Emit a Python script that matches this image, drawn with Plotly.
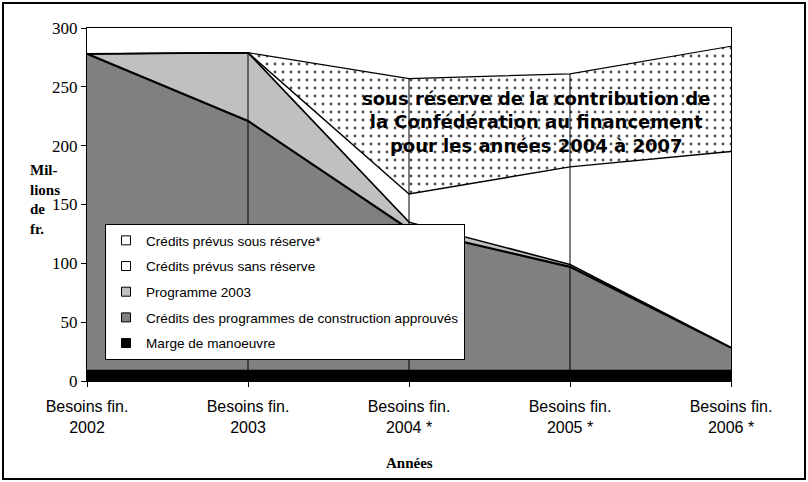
import plotly.graph_objects as go

categories = ["Besoins fin.<br>2002", "Besoins fin.<br>2003", "Besoins fin.<br>2004 *",
              "Besoins fin.<br>2005 *", "Besoins fin.<br>2006 *"]

marge = [9, 9, 9, 9, 9]
approuves = [269, 212, 120, 88, 19.5]
programme_2003 = [0, 58, 6, 2, 0]
sans_reserve = [0, 0, 24, 83, 166.5]
sous_reserve = [0, 0, 98, 79, 89.5]

series = [
    ("Marge de manoeuvre", marge, "#000000", 1.2),
    ("Crédits des programmes de construction approuvés", approuves, "#808080", 2.2),
    ("Programme 2003", programme_2003, "#C0C0C0", 1.6),
    ("Crédits prévus sans réserve", sans_reserve, "#FFFFFF", 1.4),
    ("Crédits prévus sous réserve*", sous_reserve, "#FFFFFF", 1.2),
]

fig = go.Figure()

for name, vals, color, lw in series:
    kw = dict(fillcolor=color)
    if name.startswith("Crédits prévus sous"):
        kw = dict(fillpattern=dict(shape=".", fgcolor="#505050", bgcolor="#FFFFFF",
                                   size=8, solidity=0.1, fillmode="replace"))
    fig.add_trace(go.Scatter(
        x=categories, y=vals, name=name, mode="lines", stackgroup="s",
        line=dict(color="#000000", width=lw), showlegend=False,
        hoverinfo="skip", **kw))

# legend-only entries (small squares like the original)
legend_order = list(reversed(series))
for i, (name, vals, color, lw) in enumerate(legend_order):
    fig.add_trace(go.Scatter(
        x=[None], y=[None], mode="markers", name=name, legendgroup=str(i),
        marker=dict(symbol="square", size=9, color=color,
                    line=dict(color="#000000", width=1))))

# drop lines from 0 to the top of the stack at each inner category
totals = [sum(v) for v in zip(marge, approuves, programme_2003, sans_reserve, sous_reserve)]
for i in range(1, len(categories) - 1):
    fig.add_shape(type="line", xref="x", yref="y", x0=i, x1=i, y0=0, y1=totals[i],
                  line=dict(color="#000000", width=1), layer="above")

fig.add_annotation(
    x=2.79, y=220, xref="x", yref="y",
    text="sous réserve de la contribution de<br>la Confédération au financement<br>pour les années 2004 à 2007",
    showarrow=False, align="center",
    font=dict(family="DejaVu Sans", size=18, color="#000000", weight="bold"))

fig.add_annotation(
    x=-0.0916, y=0.514, xref="paper", yref="paper", xanchor="left", yanchor="middle",
    text="<b>Mil-<br>lions<br>de<br>fr.</b>", showarrow=False, align="left",
    font=dict(family="Liberation Serif", size=15, color="#000000"))

fig.add_annotation(
    x=0.5, y=(381 - 463) / 353, xref="paper", yref="paper", xanchor="center", yanchor="middle",
    text="<b>Années</b>", showarrow=False,
    font=dict(family="Liberation Serif", size=15, color="#000000"))

# outer frame
fig.add_shape(type="rect", xref="paper", yref="paper",
              x0=(3 - 87) / 644, x1=(805 - 87) / 644, y0=(381 - 479) / 353, y1=(381 - 3) / 353,
              line=dict(color="#000000", width=2))

fig.update_layout(
    width=808, height=482,
    margin=dict(l=87, r=77, t=28, b=101),
    paper_bgcolor="#FFFFFF", plot_bgcolor="#FFFFFF",
    font=dict(family="Liberation Sans", color="#000000"),
    legend=dict(x=(105 - 87) / 644, y=(381 - 224) / 353, xanchor="left", yanchor="top",
                bgcolor="#FFFFFF", bordercolor="#000000", borderwidth=1,
                traceorder="grouped", tracegroupgap=5,
                font=dict(family="Liberation Sans", size=13.6, color="#000000")),
    xaxis=dict(type="category", range=[0, len(categories) - 1], showgrid=False,
               showline=True, linecolor="#000000", linewidth=1, mirror=True,
               ticks="outside", ticklen=5, tickcolor="#000000",
               ticklabelstandoff=6,
               tickfont=dict(family="Liberation Sans", size=16, color="#000000"),
               zeroline=False),
    yaxis=dict(range=[0, 300], dtick=50, showgrid=False, zeroline=False,
               showline=True, linecolor="#000000", linewidth=1, mirror=True,
               ticks="outside", ticklen=5, tickcolor="#000000",
               tickfont=dict(family="Liberation Serif", size=17, color="#000000")),
)

fig.write_html("out.html", config={"displayModeBar": False},
               post_script="document.body.style.margin='0';")
